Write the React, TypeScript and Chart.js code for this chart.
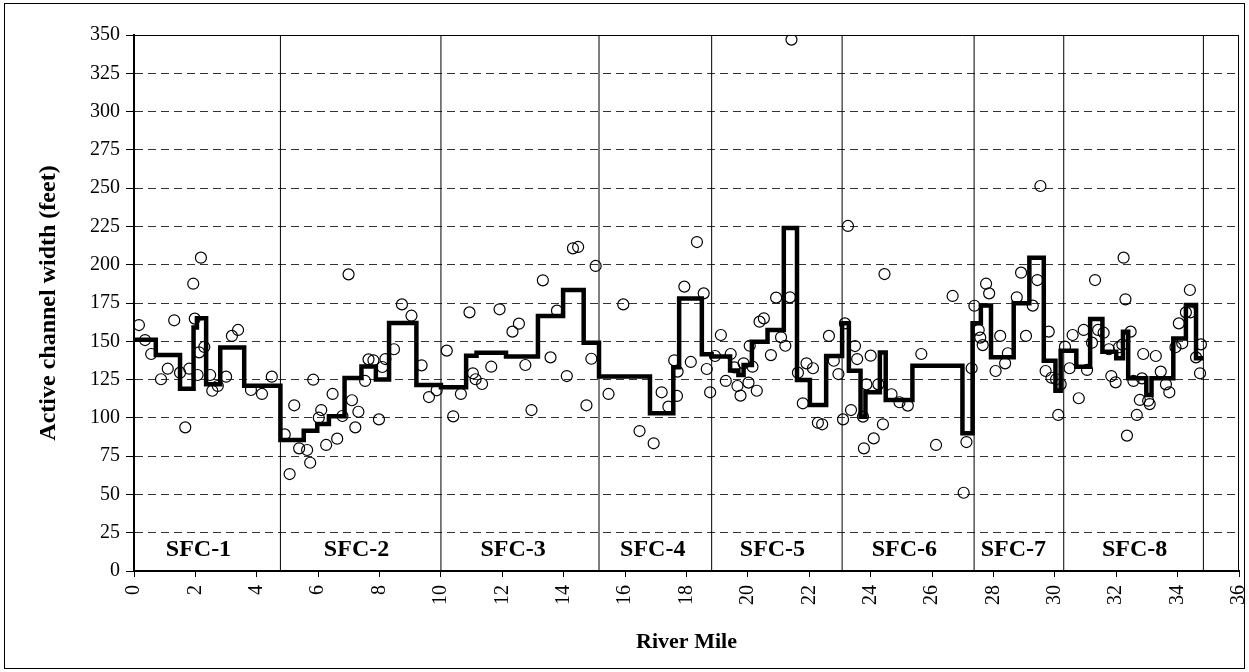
import React, { useEffect, useRef } from "react";
import { Chart, registerables } from "chart.js";

Chart.register(...registerables);

// Measured cross-section widths (river mile, active channel width in feet)
const pointMiles = [
  0.16, 0.36, 0.56, 0.88, 1.1, 1.31, 1.5, 1.67, 1.8, 1.93, 1.98, 2.07, 2.12, 2.18, 2.29, 2.48, 2.55, 2.73, 3.0, 3.19, 3.39, 3.81, 4.17, 4.49,
  4.91, 5.07, 5.22, 5.38, 5.64, 5.74, 5.84, 6.02, 6.1, 6.26, 6.47, 6.62, 6.79, 6.99, 7.1, 7.21, 7.31, 7.53, 7.64, 7.8, 7.98, 8.09, 8.19, 8.47, 8.73, 9.04, 9.37, 9.61, 9.86,
  10.19, 10.4, 10.65, 10.93, 11.04, 11.13, 11.34, 11.64, 11.91, 12.33, 12.54, 12.75, 12.95, 13.32, 13.57, 13.78, 14.1, 14.3, 14.47, 14.74, 14.9, 15.04,
  15.46, 15.94, 16.47, 16.93, 17.19, 17.41, 17.6, 17.69, 17.71, 17.93, 18.14, 18.34, 18.56, 18.66, 18.77,
  18.93, 19.12, 19.28, 19.44, 19.56, 19.66, 19.76, 19.86, 20.02, 20.06, 20.15, 20.29, 20.38, 20.52, 20.75, 20.92, 21.08, 21.22, 21.37, 21.42, 21.63, 21.79, 21.91, 22.12, 22.28, 22.42, 22.64, 22.8, 22.95,
  23.1, 23.16, 23.26, 23.36, 23.49, 23.56, 23.75, 23.78, 23.86, 24.0, 24.1, 24.25, 24.4, 24.45, 24.68, 24.94, 25.21, 25.65, 26.13, 26.67, 27.03, 27.12, 27.29,
  27.38, 27.52, 27.57, 27.65, 27.76, 27.86, 28.07, 28.22, 28.38, 28.47, 28.76, 28.9, 29.06, 29.28, 29.43, 29.53, 29.7, 29.8, 29.89, 30.04, 30.11, 30.19,
  30.33, 30.48, 30.58, 30.78, 30.94, 31.05, 31.21, 31.31, 31.41, 31.59, 31.76, 31.84, 31.98, 32.09, 32.2, 32.24, 32.3, 32.35, 32.47, 32.56, 32.67, 32.77, 32.84, 32.88, 33.04, 33.09, 33.29, 33.45, 33.62, 33.73, 33.93, 34.04, 34.15, 34.27, 34.4, 34.42, 34.6, 34.73, 34.76,
];
const pointWidths = [
  160.6, 150.8, 141.7, 125.2, 132.1, 163.7, 129.5, 93.8, 132.1, 187.6, 164.8, 128, 142.8, 204.6, 146.3, 128, 117.7, 120.8, 126.9, 153.5, 157.4, 118.2, 115.6, 126.9,
  89.2, 63.3, 108.2, 80.1, 79, 70.7, 124.9, 100.1, 105.1, 82.3, 115.6, 86.4, 101.2, 193.7, 111.5, 93.8, 104, 124.1, 138.2, 137.6, 99, 133.2, 138.4, 144.8, 174.1, 166.7, 134.3, 113.6, 118,
  143.9, 101, 115.6, 168.9, 129.1, 125.2, 122.1, 133.4, 170.9, 156.3, 161.5, 134.5, 105.1, 189.8, 139.5, 170, 127.3, 210.7, 211.6, 108.2, 138.6, 199.2,
  115.6, 174.1, 91.4, 83.4, 116.7, 107.3, 137.6, 114.3, 130.2, 185.7, 136.5, 214.8, 181.3, 131.9, 116.7,
  140.4, 154.1, 124.1, 141.7, 133, 120.8, 114.5, 135.6, 123, 147.1, 133.4, 117.7, 162.8, 165, 141, 178.5, 152.6, 147.1, 178.7, 347, 129.5, 109.5, 135.6, 132.4, 96.8, 95.8, 153.5, 137.3, 128.6,
  99, 161.7, 225.3, 105.1, 146.9, 138.4, 100.8, 80.1, 121.9, 140.6, 86.6, 121.9, 95.8, 193.9, 115.4, 110.2, 108, 141.7, 82.3, 179.6, 51.1, 84.2, 132.4,
  173.2, 157.4, 152.4, 147.5, 187.6, 181.3, 130.6, 153.5, 135.6, 142.2, 178.7, 194.8, 153.5, 173.3, 190, 251.4, 130.6, 156.3, 126.2, 125.2, 101.9, 121.9,
  146.5, 132.4, 154.1, 112.8, 157.4, 131.3, 149.1, 190, 157.4, 155.6, 144.8, 127.3, 123.2, 146.1, 147.8, 204.6, 177.4, 88.4, 156.3, 124.1, 101.9, 111.7, 125.8, 141.7, 111.2, 109, 140.4, 130.2, 121.9, 116.7, 146.1, 161.7, 148.7, 168.9, 183.5, 168.9, 139.5, 129.1, 148,
];

// Segment-averaged width (start mile of each segment, width)
const stepMiles = [
  0, 0.71, 1.5, 1.94, 2.05, 2.35, 2.81, 3.59,
  4.77, 5.53, 5.97, 6.35, 6.86, 7.41, 7.88, 8.31, 9.2,
  10.0, 10.82, 11.16, 12.12, 13.16, 13.98, 14.65,
  15.15, 16.81, 17.57, 17.76, 18.5,
  18.82, 19.42, 19.69, 19.86, 20.13, 20.64, 21.17, 21.6, 22.02, 22.55,
  23.07, 23.29, 23.67, 23.83, 24.3, 24.49, 25.36, 26.99,
  27.32, 27.59, 27.92, 28.66, 29.17, 29.64, 30.02,
  30.19, 30.7, 31.15, 31.55, 32.0, 32.22, 32.39, 32.98, 33.15, 33.86, 34.27, 34.6, 34.84,
];
const stepWidths = [
  151, 141, 119, 159, 165, 122, 146, 121,
  85.5, 91.5, 96, 101, 126, 133.5, 125, 162, 121.5,
  120, 140.5, 142.5, 140, 166.5, 183.5, 149,
  127, 103, 133, 178, 141.5,
  140, 131, 128, 134.5, 149.7, 157.4, 224, 124.7, 108.4, 140.4,
  161.7, 130.8, 100.8, 116.7, 142.6, 111.7, 134.1, 89.9,
  161.7, 173.3, 139.5, 174.8, 204.6, 137.3, 117.7,
  143.9, 133.4, 164.6, 143.2, 138.9, 156.3, 125.8, 114.9, 125.8, 151.9, 173.7, 138.9, 138.9,
];

const reachBounds = [4.77, 10.0, 15.15, 18.82, 23.07, 27.37, 30.29, 34.84];
const reachNames = ["SFC-1", "SFC-2", "SFC-3", "SFC-4", "SFC-5", "SFC-6", "SFC-7", "SFC-8"];
const reachLabelMiles = [2.1, 7.25, 12.35, 16.9, 20.8, 25.1, 28.65, 32.6];
const reachLabelWidth = 14;

const yTicks = [0, 25, 50, 75, 100, 125, 150, 175, 200, 225, 250, 275, 300, 325, 350];
const xTicks = [0, 2, 4, 6, 8, 10, 12, 14, 16, 18, 20, 22, 24, 26, 28, 30, 32, 34, 36];

const SERIF = "'Liberation Serif', 'Times New Roman', serif";
const PAD_LEFT = 34;

export default function App() {
  const canvasRef = useRef<HTMLCanvasElement | null>(null);

  useEffect(() => {
    document.body.style.margin = "0";
    const canvas = canvasRef.current;
    if (!canvas) return;

    const framePlugin = {
      id: "frameAndLabels",
      afterDatasetsDraw(chart: any) {
        const { ctx, chartArea, scales } = chart;
        ctx.save();
        ctx.strokeStyle = "#000";
        ctx.lineWidth = 1;
        ctx.setLineDash([]);
        ctx.beginPath();
        ctx.moveTo(chartArea.left, chartArea.top + 0.5);
        ctx.lineTo(chartArea.right, chartArea.top + 0.5);
        ctx.moveTo(chartArea.right - 0.5, chartArea.top);
        ctx.lineTo(chartArea.right - 0.5, chartArea.bottom);
        ctx.stroke();
        ctx.fillStyle = "#000";
        ctx.font = `bold 24px ${SERIF}`;
        ctx.textAlign = "center";
        ctx.textBaseline = "middle";
        reachNames.forEach((name, i) => {
          const x = scales.x.getPixelForValue(reachLabelMiles[i]);
          const y = scales.y.getPixelForValue(reachLabelWidth);
          ctx.fillText(name, x, y);
        });
        ctx.restore();
      },
    };

    const separatorSets = reachBounds.map((b) => ({
      type: "line" as const,
      data: [
        { x: b, y: 0 },
        { x: b, y: 350 },
      ],
      borderColor: "#000",
      borderWidth: 1,
      pointRadius: 0,
      showLine: true,
      fill: false,
    }));

    const chart = new Chart(canvas, {
      type: "line",
      data: {
        datasets: [
          {
            type: "line",
            data: pointMiles.map((m, i) => ({ x: m, y: pointWidths[i] })),
            showLine: false,
            pointRadius: 5.5,
            pointBorderWidth: 1.2,
            pointBorderColor: "#000",
            pointBackgroundColor: "rgba(0,0,0,0)",
          },
          {
            type: "line",
            data: stepMiles.map((m, i) => ({ x: m, y: stepWidths[i] })),
            stepped: "before",
            borderColor: "#000",
            borderWidth: 4.5,
            pointRadius: 0,
            fill: false,
          },
          ...separatorSets,
        ] as any,
      },
      plugins: [framePlugin],
      options: {
        animation: false,
        responsive: false,
        maintainAspectRatio: false,
        layout: { padding: { left: PAD_LEFT, right: 10, top: 35, bottom: 0 } },
        plugins: { legend: { display: false }, tooltip: { enabled: false } },
        scales: {
          x: {
            type: "linear",
            min: 0,
            max: 36,
            afterBuildTicks: (scale: any) => {
              scale.ticks = xTicks.map((v) => ({ value: v }));
            },
            afterFit: (scale: any) => {
              scale.height = 101;
              scale.paddingLeft = 0;
              scale.paddingRight = 0;
            },
            ticks: {
              maxRotation: 90,
              minRotation: 90,
              color: "#000",
              font: { family: SERIF, size: 20 },
              padding: 8,
            },
            grid: {
              drawOnChartArea: false,
              drawTicks: true,
              tickLength: 6,
              tickColor: "#000",
              tickWidth: 1,
            },
            border: { display: true, color: "#000", width: 2 },
            title: {
              display: true,
              text: "River Mile",
              color: "#000",
              font: { family: SERIF, size: 22, weight: "bold" },
              padding: { top: 0, bottom: 16 },
            },
          },
          y: {
            type: "linear",
            min: 0,
            max: 350,
            afterBuildTicks: (scale: any) => {
              scale.ticks = yTicks.map((v) => ({ value: v }));
            },
            afterFit: (scale: any) => {
              scale.width = 134 - PAD_LEFT;
            },
            ticks: {
              color: "#000",
              font: { family: SERIF, size: 20 },
              padding: 6,
            },
            grid: {
              color: "#333",
              lineWidth: 1,
              drawTicks: true,
              tickLength: 8,
              tickColor: "#000",
            },
            border: { display: true, color: "#000", width: 2, dash: [8, 5] },
            title: {
              display: true,
              text: "Active channel width (feet)",
              color: "#000",
              font: { family: SERIF, size: 24, weight: "bold" },
              padding: { top: 0, bottom: 4 },
            },
          },
        },
      } as any,
    });

    return () => chart.destroy();
  }, []);

  return (
    <div style={{ position: "relative", width: 1249, height: 672, background: "#fff" }}>
      <div
        style={{
          position: "absolute",
          left: 4,
          top: 3,
          width: 1241,
          height: 666,
          border: "1px solid #000",
          boxSizing: "border-box",
          pointerEvents: "none",
        }}
      />
      <canvas ref={canvasRef} width={1249} height={672} style={{ display: "block" }} />
    </div>
  );
}
